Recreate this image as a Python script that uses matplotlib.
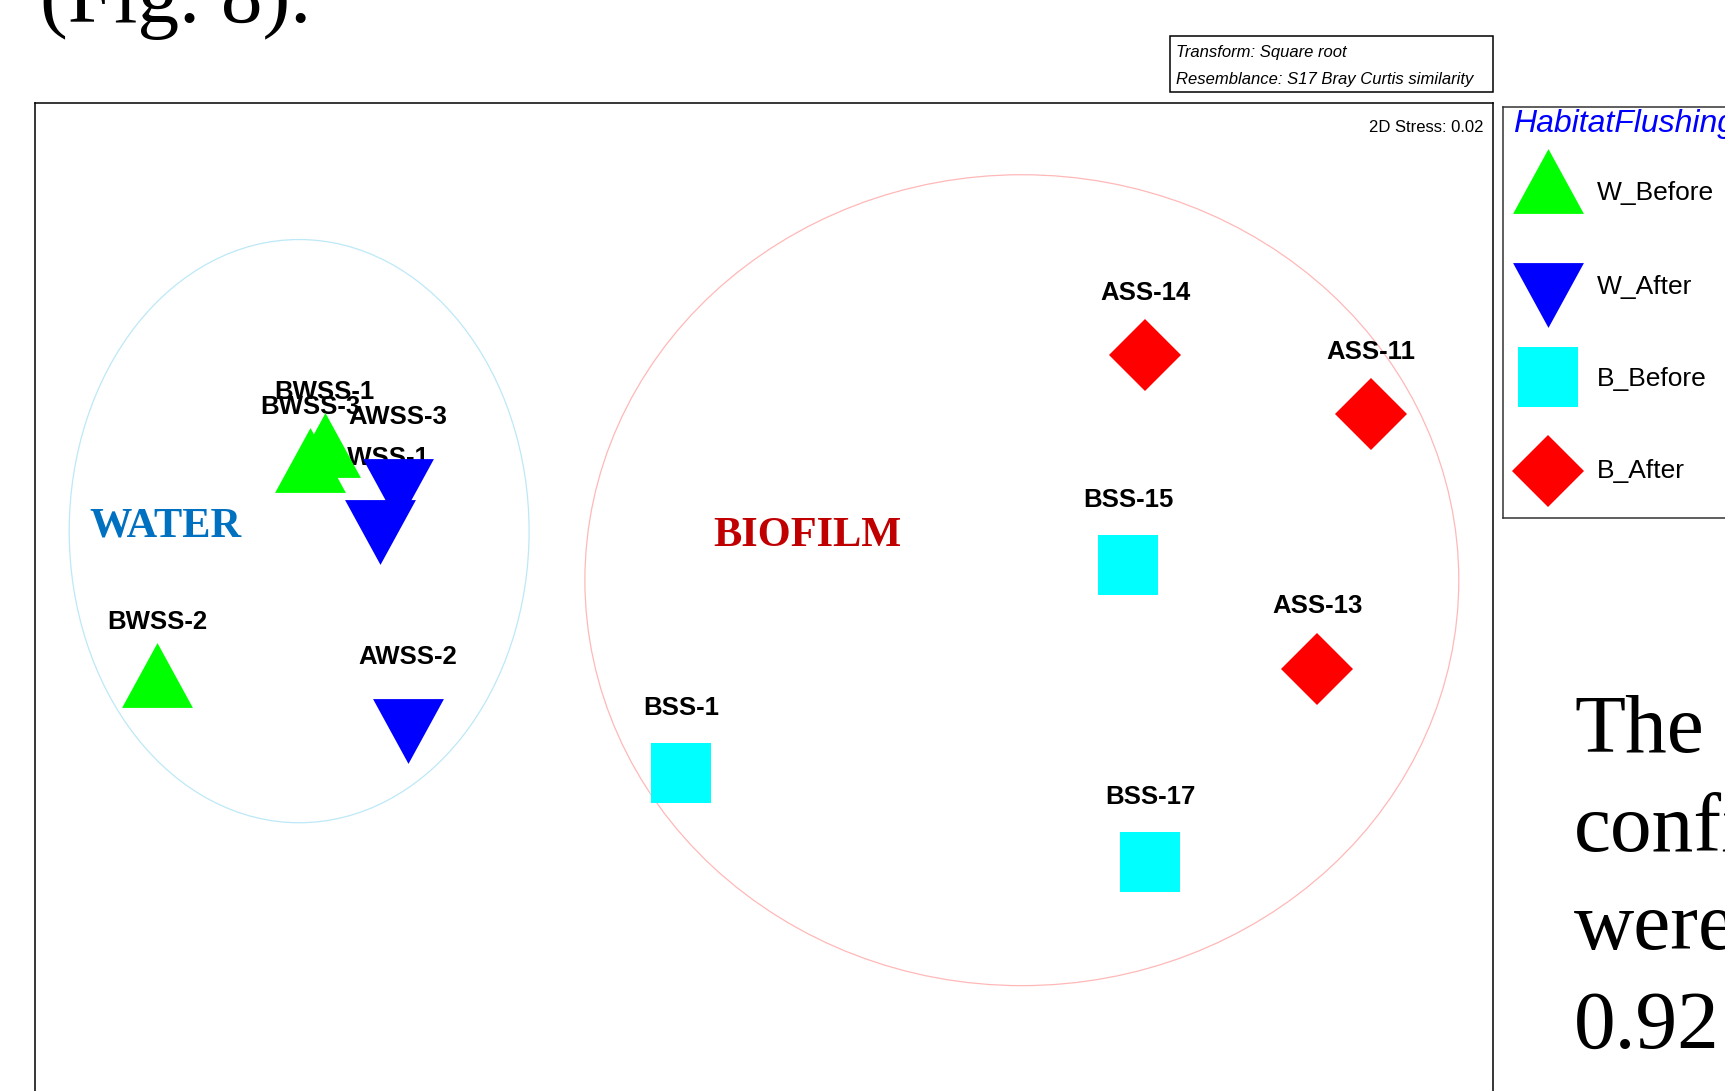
import matplotlib
matplotlib.use('Agg')
import matplotlib.pyplot as plt
from matplotlib.patches import Ellipse, Rectangle
from matplotlib import font_manager

# nMDS coordinates
samples = ['BWSS-1', 'BWSS-3', 'BWSS-2', 'AWSS-3', 'AWSS-1', 'AWSS-2',
           'BSS-1', 'BSS-15', 'BSS-17', 'ASS-14', 'ASS-11', 'ASS-13']
groups = ['W_Before', 'W_Before', 'W_Before', 'W_After', 'W_After', 'W_After',
          'B_Before', 'B_Before', 'B_Before', 'B_After', 'B_After', 'B_After']
mds1 = [-0.976, -1.009, -1.349, -0.813, -0.853, -0.791,
        -0.184, 0.809, 0.858, 0.847, 1.349, 1.229]
mds2 = [0.344, 0.311, -0.167, 0.242, 0.151, -0.291,
        -0.384, 0.078, -0.582, 0.544, 0.413, -0.153]

group_names = ['W_Before', 'W_After', 'B_Before', 'B_After']
group_colors = ['#00ff00', '#0000ff', '#00ffff', '#ff0000']
group_markers = ['^', 'v', 's', 'D']

# clusters: name, centre, width, height
clusters = ['WATER', 'BIOFILM']
cluster_centre = [(-1.033, 0.153), (0.573, 0.044)]
cluster_size = [(1.022, 1.296), (1.942, 1.802)]
cluster_label_pos = [(-1.331, 0.164), (0.097, 0.143)]

stress = 0.02

# PRIMER uses a condensed font for the small notes
have_narrow = any(f.name == 'Liberation Sans Narrow' for f in font_manager.fontManager.ttflist)
if have_narrow:
    narrow, note_size = 'Liberation Sans Narrow', 14.5
else:
    narrow, note_size = 'Liberation Sans', 12

ms = {'^': 51, 'v': 51, 's': 42.5, 'D': 37}
lab_off = {'^': 38, 'v': 53, 's': 47, 'D': 45}
tri_up = [(-1, -0.915), (1, -0.915), (0, 0.915)]
tri_dn = [(-1, 0.915), (1, 0.915), (0, -0.915)]
marker_path = {'^': tri_up, 'v': tri_dn, 's': 's', 'D': 'D'}

fig = plt.figure(figsize=(17.25, 10.91), dpi=100)
W, H = 1725.0, 1091.0

ax = fig.add_axes([35 / W, 1 - 1130 / H, (1493 - 35) / W, (1130 - 103) / H])
ax.set_xlim(-1.62, 1.62)
ax.set_ylim(-1.1778, 1.1044)
ax.set_xticks([])
ax.set_yticks([])
for s in ax.spines.values():
    s.set_linewidth(1.1)
    s.set_color('black')

ell_colors = ['#bde8f7', '#ffb8b8']
lab_colors = ['#0070c0', '#c00000']
for i in range(len(clusters)):
    e = Ellipse(cluster_centre[i], cluster_size[i][0], cluster_size[i][1],
                fill=False, edgecolor=ell_colors[i], linewidth=0.9, zorder=1)
    ax.add_patch(e)
    ax.text(cluster_label_pos[i][0], cluster_label_pos[i][1], clusters[i],
            fontsize=30.5, fontweight='bold', family='Liberation Serif',
            color=lab_colors[i], ha='center', va='center', zorder=2)

# labels first, symbols drawn over them
for i in range(len(samples)):
    g = group_names.index(groups[i])
    m = group_markers[g]
    ax.annotate(samples[i], (mds1[i], mds2[i]), xytext=(0, lab_off[m]),
                textcoords='offset points', ha='center', va='center',
                fontsize=18.5, fontweight='bold', family='Liberation Sans', zorder=3)
for i in range(len(samples)):
    g = group_names.index(groups[i])
    m = group_markers[g]
    ax.plot(mds1[i], mds2[i], marker=marker_path[m], markersize=ms[m],
            color=group_colors[g], markeredgewidth=0, linestyle='none', zorder=4)

ax.text(1.598, 1.1044 - 24 / 450, '2D Stress: %.2f' % stress,
        ha='right', va='center', fontsize=note_size, family=narrow)

# transform / resemblance box
fig.patches.append(Rectangle((1170 / W, 1 - 92 / H), (1493 - 1170) / W, (92 - 36) / H,
                             transform=fig.transFigure, fill=False,
                             edgecolor='black', linewidth=1.1))
fig.text(1176 / W, 1 - 53 / H, 'Transform: Square root', style='italic',
         fontsize=note_size, family=narrow, va='center')
fig.text(1176 / W, 1 - 80 / H, 'Resemblance: S17 Bray Curtis similarity', style='italic',
         fontsize=note_size, family=narrow, va='center')

# legend box
lax = fig.add_axes([1503 / W, 1 - 518 / H, (1760 - 1503) / W, (518 - 107) / H])
lax.set_xlim(0, 257)
lax.set_ylim(411, 0)
lax.set_xticks([])
lax.set_yticks([])
for s in lax.spines.values():
    s.set_linewidth(1.1)
    s.set_color('#333333')
lax.text(10, 17, 'HabitatFlushing', color='#0000ff', style='italic',
         fontsize=23, family='Liberation Sans', va='center')
row_y = [74, 188, 270, 364]
text_y = [86, 180, 272, 364]
for g in range(len(group_names)):
    m = group_markers[g]
    lax.plot(45, row_y[g], marker=marker_path[m], markersize=ms[m],
             color=group_colors[g], markeredgewidth=0, linestyle='none')
    lax.text(94, text_y[g], group_names[g], fontsize=19,
             family='Liberation Sans', va='center')

# surrounding page text
fig.text(40 / W, 1 - 22 / H, '(Fig. 8).', fontsize=60, family='Liberation Serif',
         va='baseline')
page_lines = ['The', 'configuration', 'were', '0.92']
page_base = [752, 851, 949, 1048]
for t, b in zip(page_lines, page_base):
    fig.text(1574 / W, 1 - b / H, t, fontsize=60, family='Liberation Serif',
             va='baseline')

fig.savefig('out.png', dpi=100)
